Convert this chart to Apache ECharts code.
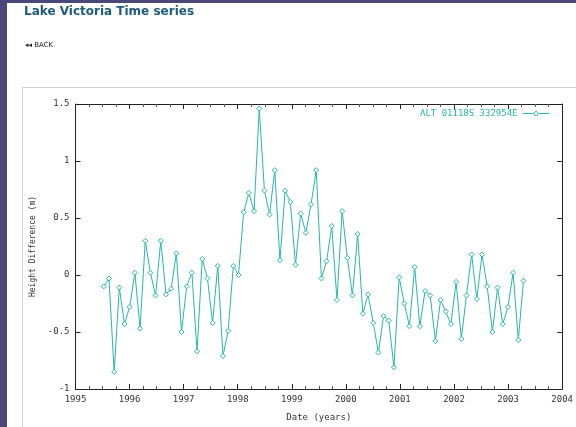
<!DOCTYPE html>
<html>
<head>
<meta charset="utf-8">
<script src="https://cdn.jsdelivr.net/npm/echarts@6/dist/echarts.min.js"></script>
<style>
  html, body { margin: 0; padding: 0; background: #ffffff; }
  #chart { width: 576px; height: 427px; }
</style>
</head>
<body>
<div id="chart"></div>
<script>
// Sample dates (decimal years), one per 35-day altimeter cycle
const dates = [
  1995.523, 1995.619, 1995.715, 1995.810, 1995.906, 1996.002, 1996.098, 1996.194,
  1996.290, 1996.385, 1996.481, 1996.577, 1996.673, 1996.769, 1996.865, 1996.960,
  1997.056, 1997.152, 1997.248, 1997.344, 1997.440, 1997.535, 1997.631, 1997.727,
  1997.823, 1997.919, 1998.014, 1998.110, 1998.206, 1998.302, 1998.398, 1998.494,
  1998.589, 1998.685, 1998.781, 1998.877, 1998.973, 1999.068, 1999.164, 1999.260,
  1999.356, 1999.452, 1999.548, 1999.643, 1999.739, 1999.835, 1999.931, 2000.027,
  2000.122, 2000.218, 2000.314, 2000.410, 2000.506, 2000.602, 2000.697, 2000.793,
  2000.889, 2000.985, 2001.081, 2001.176, 2001.272, 2001.368, 2001.464, 2001.560,
  2001.656, 2001.751, 2001.847, 2001.943, 2002.039, 2002.135, 2002.230, 2002.326,
  2002.422, 2002.518, 2002.614, 2002.710, 2002.805, 2002.901, 2002.997, 2003.093,
  2003.189, 2003.284
];

// Height difference (m) at each date
const heights = [
  -0.10, -0.03, -0.85, -0.11, -0.43, -0.28,  0.02, -0.47,
   0.30,  0.02, -0.18,  0.30, -0.17, -0.12,  0.19, -0.50,
  -0.10,  0.02, -0.67,  0.14, -0.03, -0.42,  0.08, -0.71,
  -0.49,  0.08,  0.00,  0.55,  0.72,  0.56,  1.46,  0.74,
   0.53,  0.92,  0.13,  0.74,  0.64,  0.09,  0.54,  0.37,
   0.62,  0.92, -0.03,  0.12,  0.43, -0.22,  0.56,  0.15,
  -0.18,  0.36, -0.34, -0.17, -0.42, -0.68, -0.36, -0.40,
  -0.81, -0.02, -0.25, -0.45,  0.07, -0.45, -0.14, -0.18,
  -0.58, -0.22, -0.32, -0.43, -0.06, -0.56, -0.18,  0.18,
  -0.21,  0.18, -0.10, -0.50, -0.11, -0.43, -0.28,  0.02,
  -0.57, -0.05
];

const seriesName = 'ALT 01118S 332954E';
const pageTitle = 'Lake Victoria Time series';
const backLabel = '\u25C2\u25C2 BACK';
const xTitle = 'Date (years)';
const yTitle = 'Height Difference (m)';

const points = dates.map((d, i) => [d, heights[i]]);

const lineColor = '#27b6ad';
const mono = '"DejaVu Sans Mono", "Liberation Mono", monospace';
const axisCommon = {
  axisLine: { show: true, onZero: false, lineStyle: { color: '#222', width: 1 } },
  splitLine: { show: false }
};

const chart = echarts.init(document.getElementById('chart'), null, { renderer: 'canvas' });
chart.setOption({
  animation: false,
  backgroundColor: '#ffffff',
  grid: { left: 75.5, right: 13, top: 104, bottom: 36, containLabel: false },
  graphic: [
    { type: 'rect', shape: { x: 0, y: 0, width: 576, height: 3 }, style: { fill: '#4a4879' }, z: 100 },
    { type: 'rect', shape: { x: 0, y: 0, width: 7, height: 427 }, style: { fill: '#4a4879' }, z: 100 },
    { type: 'line', shape: { x1: 22.5, y1: 87.5, x2: 576, y2: 87.5 }, style: { stroke: '#cfcfcf', lineWidth: 1 } },
    { type: 'line', shape: { x1: 22.5, y1: 87.5, x2: 22.5, y2: 427 }, style: { stroke: '#cfcfcf', lineWidth: 1 } },
    { type: 'text', left: 24, top: 6, style: { text: pageTitle, fill: '#1d5a7c', font: 'bold 12px "DejaVu Sans", sans-serif' } },
    { type: 'text', left: 25, top: 42, style: { text: backLabel, fill: '#222', font: '7px "DejaVu Sans", sans-serif' } }
  ],
  legend: {
    data: [seriesName],
    right: 26,
    top: 109,
    align: 'right',
    itemWidth: 27,
    itemHeight: 6,
    itemGap: 6,
    lineStyle: { width: 1 },
    itemStyle: { borderWidth: 1 },
    textStyle: { color: lineColor, fontFamily: mono, fontSize: 9 },
    padding: 0
  },
  xAxis: [
    Object.assign({}, axisCommon, {
      type: 'value', min: 1995, max: 2004, interval: 1,
      position: 'bottom',
      name: xTitle, nameLocation: 'middle', nameGap: 24,
      nameTextStyle: { color: '#333', fontFamily: mono, fontSize: 9 },
      axisTick: { show: true, inside: true, length: 5, lineStyle: { color: '#222' } },
      minorTick: { show: true, splitNumber: 4, length: 3, lineStyle: { color: '#555' } },
      axisLabel: { color: '#333', fontFamily: mono, fontSize: 9, margin: 6, formatter: v => String(v) }
    }),
    Object.assign({}, axisCommon, {
      type: 'value', min: 1995, max: 2004, interval: 1,
      position: 'top',
      axisTick: { show: true, inside: true, length: 5, lineStyle: { color: '#222' } },
      minorTick: { show: true, splitNumber: 4, length: 3, lineStyle: { color: '#555' } },
      axisLabel: { show: false }
    })
  ],
  yAxis: [
    Object.assign({}, axisCommon, {
      type: 'value', min: -1, max: 1.5, interval: 0.5,
      position: 'left',
      name: yTitle, nameLocation: 'middle', nameGap: 38, nameRotate: 90,
      nameTextStyle: { color: '#333', fontFamily: mono, fontSize: 8 },
      axisTick: { show: true, inside: true, length: 5, lineStyle: { color: '#222' } },
      axisLabel: { color: '#333', fontFamily: mono, fontSize: 9, margin: 6, formatter: v => String(v) }
    }),
    Object.assign({}, axisCommon, {
      type: 'value', min: -1, max: 1.5, interval: 0.5,
      position: 'right',
      axisTick: { show: true, inside: true, length: 5, lineStyle: { color: '#222' } },
      axisLabel: { show: false }
    })
  ],
  series: [{
    name: seriesName,
    type: 'line',
    xAxisIndex: 0,
    yAxisIndex: 0,
    data: points,
    symbol: 'diamond',
    symbolSize: 5,
    showAllSymbol: true,
    lineStyle: { color: lineColor, width: 1 },
    itemStyle: { color: '#ffffff', borderColor: lineColor, borderWidth: 1 }
  }]
});
</script>
</body>
</html>
